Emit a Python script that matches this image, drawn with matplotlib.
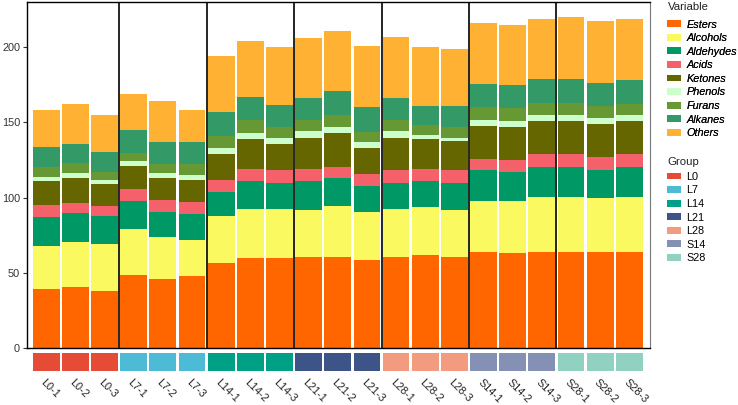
import matplotlib
matplotlib.use("Agg")
import matplotlib.pyplot as plt
from matplotlib.patches import Patch
from matplotlib.transforms import ScaledTranslation
import numpy as np

plt.rcParams['font.family'] = ['Liberation Sans', 'DejaVu Sans']

samples = ['L0-1', 'L0-2', 'L0-3', 'L7-1', 'L7-2', 'L7-3', 'L14-1', 'L14-2', 'L14-3',
           'L21-1', 'L21-2', 'L21-3', 'L28-1', 'L28-2', 'L28-3', 'S14-1', 'S14-2', 'S14-3',
           'S28-1', 'S28-2', 'S28-3']
groups = ['L0', 'L7', 'L14', 'L21', 'L28', 'S14', 'S28']
group_colors = ['#E64B35', '#4DBBD5', '#00A087', '#3C5488', '#F39B7F', '#8491B4', '#91D1C2']

variables = ['Esters', 'Alcohols', 'Aldehydes', 'Acids', 'Ketones', 'Phenols', 'Furans', 'Alkanes', 'Others']
var_colors = ['#FF6600', '#FAFA60', '#009966', '#F4616A', '#666600', '#CCFFCC', '#669933', '#339966', '#FFB134']

esters    = [39.2, 41.0, 38.1, 48.7, 45.9, 48.1, 56.9, 60.2, 60.2, 60.9, 60.9, 58.7, 60.9, 62.0, 60.9, 64.0, 63.2, 64.2, 64.2, 64.2, 64.2]
alcohols  = [28.8, 29.9, 31.0, 30.4, 27.9, 23.9, 31.1, 32.6, 32.6, 31.1, 33.9, 32.1, 31.9, 31.8, 31.1, 33.9, 34.7, 36.6, 36.6, 35.9, 36.6]
aldehydes = [19.1, 18.9, 18.9, 18.8, 17.0, 17.1, 15.7, 18.0, 17.3, 18.8, 18.2, 17.1, 17.3, 17.0, 18.1, 20.2, 19.1, 19.9, 19.9, 18.5, 19.9]
acids     = [8.2, 7.0, 6.8, 8.0, 7.8, 8.0, 8.2, 8.2, 8.0, 8.2, 7.7, 8.0, 8.0, 8.2, 8.0, 7.8, 8.2, 8.5, 8.5, 8.4, 8.5]
ketones   = [15.7, 16.2, 14.2, 15.3, 14.4, 14.8, 17.1, 20.0, 17.7, 21.0, 22.2, 17.1, 21.9, 20.0, 19.9, 21.9, 22.1, 21.9, 21.9, 22.1, 21.9]
phenols   = [3.1, 3.4, 2.9, 2.9, 3.4, 3.3, 4.0, 3.9, 4.2, 4.0, 4.0, 4.0, 4.0, 2.8, 2.0, 4.0, 3.8, 4.0, 4.0, 3.8, 4.0]
furans    = [6.6, 6.6, 5.5, 5.6, 5.9, 7.1, 8.2, 8.4, 6.7, 7.3, 8.0, 6.4, 7.3, 6.7, 6.7, 8.2, 8.5, 7.8, 7.8, 7.8, 7.1]
alkanes   = [13.3, 12.8, 13.3, 15.4, 14.4, 14.4, 15.7, 15.8, 15.1, 14.7, 16.2, 16.6, 14.7, 12.2, 14.0, 15.7, 15.5, 16.2, 16.2, 15.5, 16.2]
others    = [24.0, 26.2, 24.2, 24.0, 27.5, 21.3, 37.0, 36.8, 38.1, 40.1, 39.9, 41.0, 41.0, 39.2, 38.3, 40.1, 39.9, 39.9, 41.0, 41.0, 40.6]

series = [esters, alcohols, aldehydes, acids, ketones, phenols, furans, alkanes, others]

fig = plt.figure(figsize=(7.38, 4.05), dpi=100)
W, H = 738, 405
ax = fig.add_axes([27 / W, 1 - 348.3 / H, 623 / W, 346.3 / H])
strip = fig.add_axes([27 / W, 1 - 371 / H, 623 / W, 18.3 / H])

x = np.arange(len(samples))
bottom = np.zeros(len(samples))
for name, vals, col in zip(variables, series, var_colors):
    ax.bar(x, vals, bottom=bottom, width=0.92, color=col, linewidth=0)
    bottom += np.array(vals)

for k in range(1, len(groups)):
    ax.axvline(3 * k - 0.5, color='black', lw=1.2)

ax.set_xlim(-0.66, 20.71)
ax.set_ylim(0, 230)
ax.set_yticks([0, 50, 100, 150, 200])
ax.set_xticks([])
ax.tick_params(axis='y', labelsize=7.8, colors='#333333', length=3, width=0.8, pad=2)
for side in ['left', 'top', 'bottom']:
    ax.spines[side].set_color('black')
    ax.spines[side].set_linewidth(1.0)
ax.spines['right'].set_color('#777777')

strip_cols = [group_colors[i // 3] for i in range(len(samples))]
strip.bar(x, [1] * len(samples), width=0.92, color=strip_cols, linewidth=0)
strip.set_xlim(-0.66, 20.71)
strip.set_ylim(0, 1)
strip.set_yticks([])
strip.set_xticks(x)
strip.set_xticklabels(samples, rotation=-45, ha='left', va='center',
                      rotation_mode='anchor', fontsize=7.8, color='#222222')
strip.tick_params(axis='x', length=0, pad=7)
for lab in strip.get_xticklabels():
    lab.set_transform(lab.get_transform() + ScaledTranslation(-3 / 72, 0, fig.dpi_scale_trans))
for s in strip.spines.values():
    s.set_visible(False)

# legends: titles drawn as text so spacing matches
fig.text(667.5 / W, 1 - 7.5 / H, 'Variable', va='center', ha='left', fontsize=8.2, color='#222222')
fig.text(667.5 / W, 1 - 161.7 / H, 'Group', va='center', ha='left', fontsize=8.2, color='#222222')

var_handles = [Patch(facecolor=c, edgecolor='none', label=v) for v, c in zip(variables, var_colors)]
leg1 = fig.legend(handles=var_handles, loc='upper left',
                  bbox_to_anchor=(667.3 / W, 1 - 19.5 / H), frameon=False,
                  prop={'style': 'italic', 'size': 7.8},
                  handlelength=1.3, handleheight=0.6, labelspacing=0.33,
                  handletextpad=0.45, borderpad=0, borderaxespad=0)
grp_handles = [Patch(facecolor=c, edgecolor='none', label=g) for g, c in zip(groups, group_colors)]
leg2 = fig.legend(handles=grp_handles, loc='upper left',
                  bbox_to_anchor=(667.3 / W, 1 - 171.8 / H), frameon=False,
                  prop={'size': 7.8},
                  handlelength=1.3, handleheight=0.6, labelspacing=0.33,
                  handletextpad=0.45, borderpad=0, borderaxespad=0)
fig.add_artist(leg1)

fig.savefig('out.png', dpi=100)
